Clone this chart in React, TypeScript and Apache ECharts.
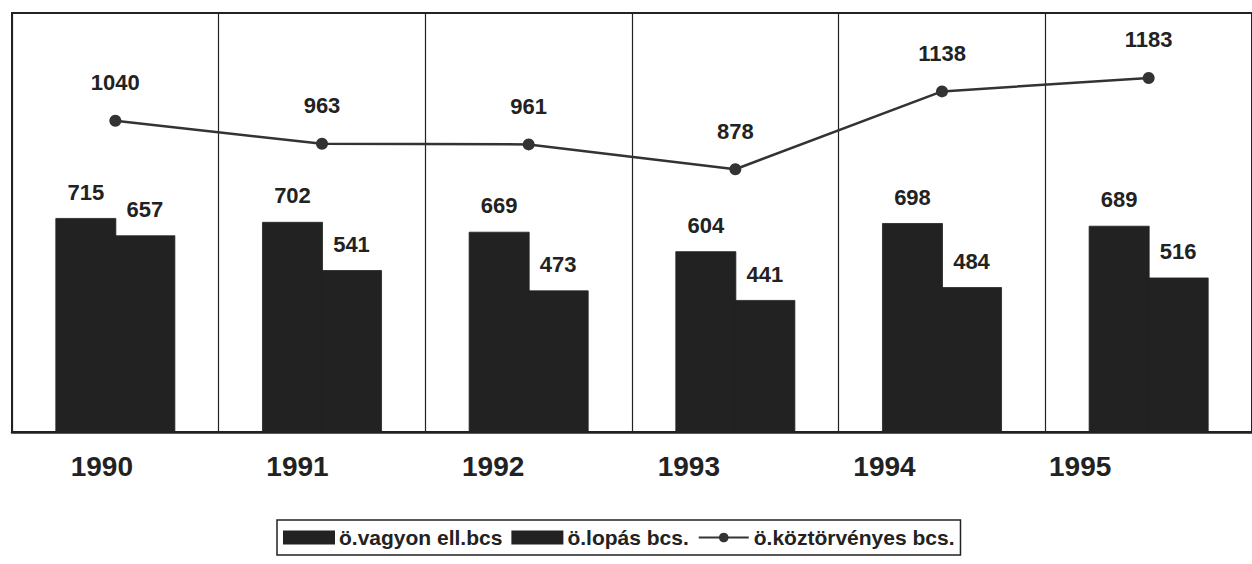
import React, { useEffect, useRef } from "react";
import * as echarts from "echarts";

const years = ["1990", "1991", "1992", "1993", "1994", "1995"];
const vagyon = [715, 702, 669, 604, 698, 689];
const lopas = [657, 541, 473, 441, 484, 516];
const koztorvenyes = [1040, 963, 961, 878, 1138, 1183];

const FONT = "'Liberation Sans', Arial, sans-serif";
const INK = "#222";

export default function App() {
  const ref = useRef<HTMLDivElement>(null);
  useEffect(() => {
    document.body.style.margin = "0";
    const chart = echarts.init(ref.current!, null, { renderer: "svg" });
    const labelStyle = {
      show: true,
      position: "top" as const,
      fontFamily: FONT,
      fontWeight: "bold" as const,
      fontSize: 22,
      color: INK,
    };
    chart.setOption({
      animation: false,
      backgroundColor: "#fff",
      textStyle: { fontFamily: FONT },
      grid: [
        {
          left: 12,
          right: -8,
          top: 13,
          bottom: 132,
          show: true,
          borderColor: INK,
          borderWidth: 2,
        },
        {
          left: 4,
          right: 74,
          top: 13,
          bottom: 132,
          show: false,
        },
      ],
      legend: {
        left: 277,
        top: 520,
        itemGap: 9,
        itemWidth: 50,
        itemHeight: 12,
        borderColor: INK,
        borderWidth: 1.5,
        padding: [7, 6, 7, 6],
        textStyle: {
          fontFamily: FONT,
          fontWeight: "bold",
          fontSize: 21,
          color: INK,
        },
        data: [
          { name: "ö.vagyon ell.bcs", icon: "rect" },
          { name: "ö.lopás bcs.", icon: "rect" },
          { name: "ö.köztörvényes bcs." },
        ],
      },
      xAxis: [
        {
          type: "category",
          gridIndex: 0,
          data: years,
          boundaryGap: true,
          axisLine: { show: true, lineStyle: { color: INK, width: 2.5 } },
          axisTick: { show: false },
          axisLabel: { show: false },
          splitLine: { show: true, lineStyle: { color: INK, width: 1.2 } },
        },
        {
          type: "category",
          gridIndex: 1,
          data: years,
          boundaryGap: true,
          axisLine: { show: false },
          axisTick: { show: false },
          splitLine: { show: false },
          axisLabel: {
            margin: 20,
            fontFamily: FONT,
            fontWeight: "bold",
            fontSize: 28,
            color: INK,
          },
        },
      ],
      yAxis: [
        {
          type: "value",
          gridIndex: 0,
          min: 0,
          max: 1400,
          show: false,
          splitLine: { show: false },
        },
        {
          type: "value",
          gridIndex: 1,
          min: 0,
          max: 1400,
          show: false,
          splitLine: { show: false },
        },
      ],
      series: [
        {
          name: "ö.vagyon ell.bcs",
          type: "bar",
          data: vagyon,
          barGap: "-3%",
          barCategoryGap: "42%",
          itemStyle: { color: INK, borderColor: INK, borderWidth: 0.8 },
          label: { ...labelStyle, distance: 15 },
        },
        {
          name: "ö.lopás bcs.",
          type: "bar",
          data: lopas,
          itemStyle: { color: INK, borderColor: INK, borderWidth: 0.8 },
          label: { ...labelStyle, distance: 15 },
        },
        {
          name: "ö.köztörvényes bcs.",
          type: "line",
          data: koztorvenyes,
          symbol: "circle",
          symbolSize: 12,
          lineStyle: { color: "#333", width: 2.5 },
          itemStyle: { color: "#333" },
          label: { ...labelStyle, distance: 21 },
        },
      ],
    });
    return () => chart.dispose();
  }, []);
  return (
    <div
      ref={ref}
      style={{ position: "fixed", left: 0, top: 0, width: 1252, height: 564 }}
    />
  );
}
